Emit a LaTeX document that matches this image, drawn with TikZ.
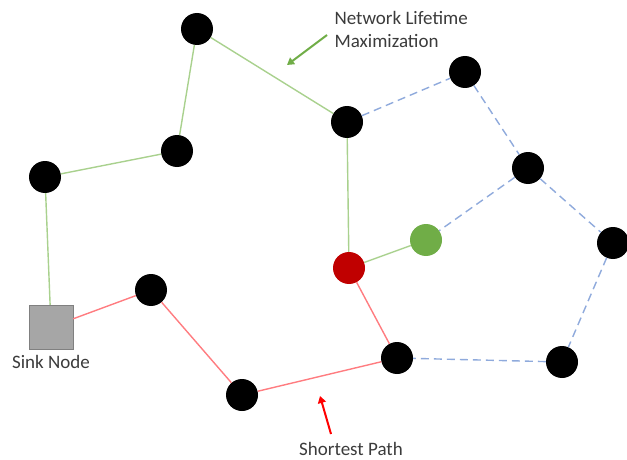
\documentclass[tikz,border=0pt]{standalone}
\usepackage{fontspec}
\setmainfont{Carlito}
\usepackage{tikz}
\usetikzlibrary{arrows.meta}

\definecolor{lifegreen}{HTML}{A9D18E}
\definecolor{arrowgreen}{HTML}{70AD47}
\definecolor{pathred}{HTML}{FF7C80}
\definecolor{nodered}{HTML}{C00000}
\definecolor{linkblue}{HTML}{8FAADC}
\definecolor{sinkgray}{HTML}{A6A6A6}
\definecolor{labelgray}{HTML}{3B3B3B}

\tikzset{
    sensor/.style={circle, fill=black, minimum size=32pt, inner sep=0pt},
    lifeline/.style={lifegreen, line width=1.4pt},
    pathline/.style={pathred, line width=1.4pt},
    idleline/.style={linkblue, dash pattern=on 8pt off 5pt, line width=1.4pt},
    caption/.style={font=\fontsize{19}{23}\selectfont, text=labelgray}
}

\begin{document}
\begin{tikzpicture}[x=1pt, y=-1pt]
    \useasboundingbox (0,0) rectangle (627,460);
    % Sensor nodes
    \node[sensor] (a) at (197, 29) {};
    \node[sensor] (b) at (177, 151) {};
    \node[sensor] (c) at (45, 177) {};
    \node[sensor] (d) at (347, 122) {};
    \node[sensor] (e) at (465, 72) {};
    \node[sensor] (f) at (528, 168) {};
    \node[sensor] (g) at (613, 243) {};
    \node[sensor] (h) at (562, 362) {};
    \node[sensor] (i) at (397, 358) {};
    \node[sensor] (j) at (242, 395) {};
    \node[sensor] (k) at (151, 290) {};
    \node[sensor, fill=nodered] (src) at (349, 268) {};
    \node[sensor, fill=arrowgreen] (alt) at (426, 240) {};
    % Sink
    \node[draw=gray, fill=sinkgray, minimum size=44pt, inner sep=0pt] (sink) at (51, 327) {};
    \node[caption, below=3pt] (sinklabel) at (sink.south) {Sink Node};
    % Lifetime route
    \draw[lifeline] (sink) -- (c) -- (b) -- (a) -- (d) -- (src) -- (alt);
    % Shortest route
    \draw[pathline] (sink) -- (k) -- (j) -- (i) -- (src);
    % Unused links
    \draw[idleline] (d) -- (e) -- (f) -- (g) -- (h) -- (i);
    \draw[idleline] (f) -- (alt);
    % Labels
    \node[caption, anchor=west, align=left] (lifelabel) at (331, 29) {Network Lifetime\\Maximization};
    \coordinate (lifetip) at (287, 65);
    \draw[arrowgreen, line width=2pt, -{Triangle[length=7pt, width=8pt]}] (327, 35) -- (lifetip);
    \node[caption] (pathlabel) at (351, 449) {Shortest Path};
    \coordinate (pathtip) at (320, 396);
    \draw[red, line width=2pt, -{Triangle[length=7pt, width=8pt]}] (331, 434) -- (pathtip);
\end{tikzpicture}
\end{document}
